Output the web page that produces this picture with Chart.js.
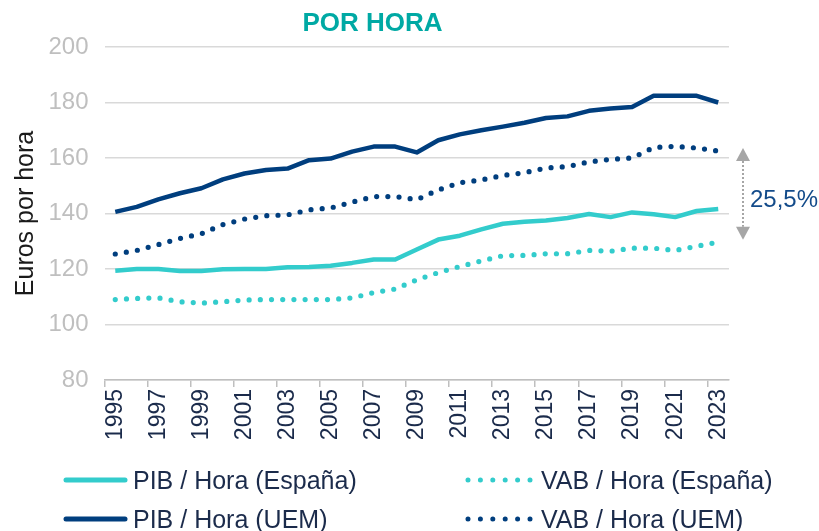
<!DOCTYPE html>
<html>
<head>
<meta charset="utf-8">
<script src="https://cdn.jsdelivr.net/npm/chart.js@4.4.1/dist/chart.umd.min.js"></script>
<style>
  body { margin: 0; background: #fff; font-family: "Liberation Sans", Arial, sans-serif; }
  #wrap { position: relative; width: 819px; height: 531px; }
  #title { position: absolute; left: 0; top: 6px; width: 745px; text-align: center;
           font-weight: bold; font-size: 26px; line-height: 32px; color: #00A9A4; }
  .leg { position: absolute; height: 34px; display: flex; align-items: center;
         font-size: 25px; color: #1B2B4B; white-space: nowrap; }
  .leg svg { margin-right: 4px; }
</style>
</head>
<body>
<div id="wrap">
  <canvas id="chart" width="819" height="531"></canvas>
  <div id="title">POR HORA</div>
  <div id="legend"></div>
</div>
<script>
// Años
const years = ['1995','1996','1997','1998','1999','2000','2001','2002','2003','2004',
  '2005','2006','2007','2008','2009','2010','2011','2012','2013','2014',
  '2015','2016','2017','2018','2019','2020','2021','2022','2023'];

// Series (euros por hora)
const pibEsp = [119.4, 120.0, 120.0, 119.3, 119.3, 119.9, 120.0, 120.0, 120.6, 120.7,
  121.2, 122.2, 123.4, 123.4, 127.0, 130.6, 132.0, 134.3, 136.3, 137.0,
  137.5, 138.4, 139.8, 138.7, 140.4, 139.7, 138.7, 140.9, 141.6];
const vabEsp = [109.0, 109.4, 109.6, 108.2, 107.7, 108.2, 108.8, 109.0, 109.0, 109.0,
  109.0, 109.6, 111.5, 112.8, 116.1, 118.7, 120.9, 122.9, 124.8, 124.9,
  125.5, 125.5, 126.7, 126.4, 127.5, 127.5, 126.7, 128.2, 129.7];
const pibUem = [140.6, 142.4, 145.1, 147.3, 149.1, 152.3, 154.4, 155.7, 156.2, 159.2,
  159.8, 162.3, 164.1, 164.1, 162.0, 166.4, 168.5, 170.0, 171.3, 172.7,
  174.4, 175.0, 177.0, 177.8, 178.4, 182.4, 182.4, 182.4, 180.0];
const vabUem = [125.4, 126.7, 128.8, 131.0, 132.7, 136.0, 138.0, 139.2, 139.5, 141.3,
  142.0, 144.1, 146.1, 146.1, 145.0, 148.5, 151.1, 152.1, 153.7, 154.7,
  156.4, 156.9, 158.6, 159.5, 160.0, 163.8, 164.2, 163.6, 162.5];

const seriesNames = ['PIB / Hora (España)', 'VAB / Hora (España)', 'PIB / Hora (UEM)', 'VAB / Hora (UEM)'];

// Anotación de la brecha
const gapLabel = '25,5%';
const gapTop = 163.6;
const gapBottom = 130.5;
const gapText = 144.9;

const teal = '#33CCCC';
const navy = '#003E7E';
const dots = [0, 11.2];

// Flecha gris + texto a la derecha
const gapPlugin = {
  id: 'gap',
  afterDraw(chart) {
    const ctx = chart.ctx;
    const y = chart.scales.y;
    const x = chart.chartArea.right + 14;
    const top = y.getPixelForValue(gapTop);
    const bot = y.getPixelForValue(gapBottom);
    const head = 13;
    ctx.save();
    ctx.fillStyle = '#A6A6A6';
    ctx.strokeStyle = '#A6A6A6';
    ctx.beginPath();
    ctx.moveTo(x, top); ctx.lineTo(x - 7, top + head); ctx.lineTo(x + 7, top + head);
    ctx.closePath(); ctx.fill();
    ctx.beginPath();
    ctx.moveTo(x, bot); ctx.lineTo(x - 7, bot - head); ctx.lineTo(x + 7, bot - head);
    ctx.closePath(); ctx.fill();
    ctx.lineWidth = 2;
    ctx.setLineDash([2, 2]);
    ctx.beginPath();
    ctx.moveTo(x, top + head); ctx.lineTo(x, bot - head);
    ctx.stroke();
    ctx.setLineDash([]);
    ctx.fillStyle = '#134B8A';
    ctx.font = '24px "Liberation Sans", Arial, sans-serif';
    ctx.textAlign = 'left';
    ctx.textBaseline = 'middle';
    ctx.fillText(gapLabel, x + 7, y.getPixelForValue(gapText));
    ctx.restore();
  }
};

new Chart(document.getElementById('chart'), {
  type: 'line',
  data: {
    labels: years,
    datasets: [
      { label: seriesNames[0], data: pibEsp, borderColor: teal, borderWidth: 4.5 },
      { label: seriesNames[1], data: vabEsp, borderColor: teal, borderWidth: 5.2, borderDash: dots, borderCapStyle: 'round' },
      { label: seriesNames[2], data: pibUem, borderColor: navy, borderWidth: 4.5 },
      { label: seriesNames[3], data: vabUem, borderColor: navy, borderWidth: 5.2, borderDash: dots, borderCapStyle: 'round' }
    ]
  },
  options: {
    responsive: false,
    animation: false,
    layout: { padding: { top: 47, right: 90, bottom: 81, left: 0 } },
    elements: {
      point: { radius: 0 },
      line: { tension: 0, fill: false, borderJoinStyle: 'round' }
    },
    plugins: {
      legend: { display: false },
      title: { display: false },
      tooltip: { enabled: false }
    },
    scales: {
      x: {
        offset: true,
        afterFit(scale) { scale.height = 70; },
        grid: {
          offset: true,
          drawOnChartArea: false,
          drawTicks: true,
          tickLength: 7,
          lineWidth: 1.5,
          color: ctx => (ctx.index % 2 === 0 && ctx.index < years.length) ? '#BFBFBF' : 'rgba(0,0,0,0)'
        },
        border: { color: '#BFBFBF', width: 1.5 },
        ticks: {
          autoSkip: false,
          minRotation: 90,
          maxRotation: 90,
          padding: 2,
          color: '#1B2B4B',
          font: { family: '"Liberation Sans", Arial, sans-serif', size: 23 },
          callback: function (val, i) { return i % 2 === 0 ? years[i] : ''; }
        }
      },
      y: {
        min: 80,
        max: 200,
        afterFit(scale) { scale.width = 104.5; },
        grid: { color: '#D9D9D9', lineWidth: 1.5, drawTicks: false },
        border: { display: false },
        ticks: {
          stepSize: 20,
          padding: 16,
          color: '#BFBFBF',
          font: { family: '"Liberation Sans", Arial, sans-serif', size: 24 }
        },
        title: {
          display: true,
          text: 'Euros por hora',
          color: '#1A1A1A',
          padding: { top: 11, bottom: 0 },
          font: { family: '"Liberation Sans", Arial, sans-serif', size: 25 }
        }
      }
    }
  },
  plugins: [gapPlugin]
});

// Leyenda en dos columnas
const legendPos = [
  { left: 63, top: 463, color: teal, dotted: false },
  { left: 465, top: 463, color: teal, dotted: true },
  { left: 63, top: 502, color: navy, dotted: false },
  { left: 465, top: 502, color: navy, dotted: true }
];
const legend = document.getElementById('legend');
seriesNames.forEach((name, i) => {
  const p = legendPos[i];
  const div = document.createElement('div');
  div.className = 'leg';
  div.style.left = p.left + 'px';
  div.style.top = p.top + 'px';
  const dash = p.dotted ? 'stroke-dasharray="0 12.4"' : '';
  const w = p.dotted ? 72 : 66;
  div.innerHTML = '<svg width="' + w + '" height="10"><line x1="3" y1="5" x2="' + (w - 4) + '" y2="5" stroke="' + p.color +
    '" stroke-width="' + (p.dotted ? 5 : 5) + '" stroke-linecap="round" ' + dash + '/></svg>' + name;
  legend.appendChild(div);
});
</script>
</body>
</html>
